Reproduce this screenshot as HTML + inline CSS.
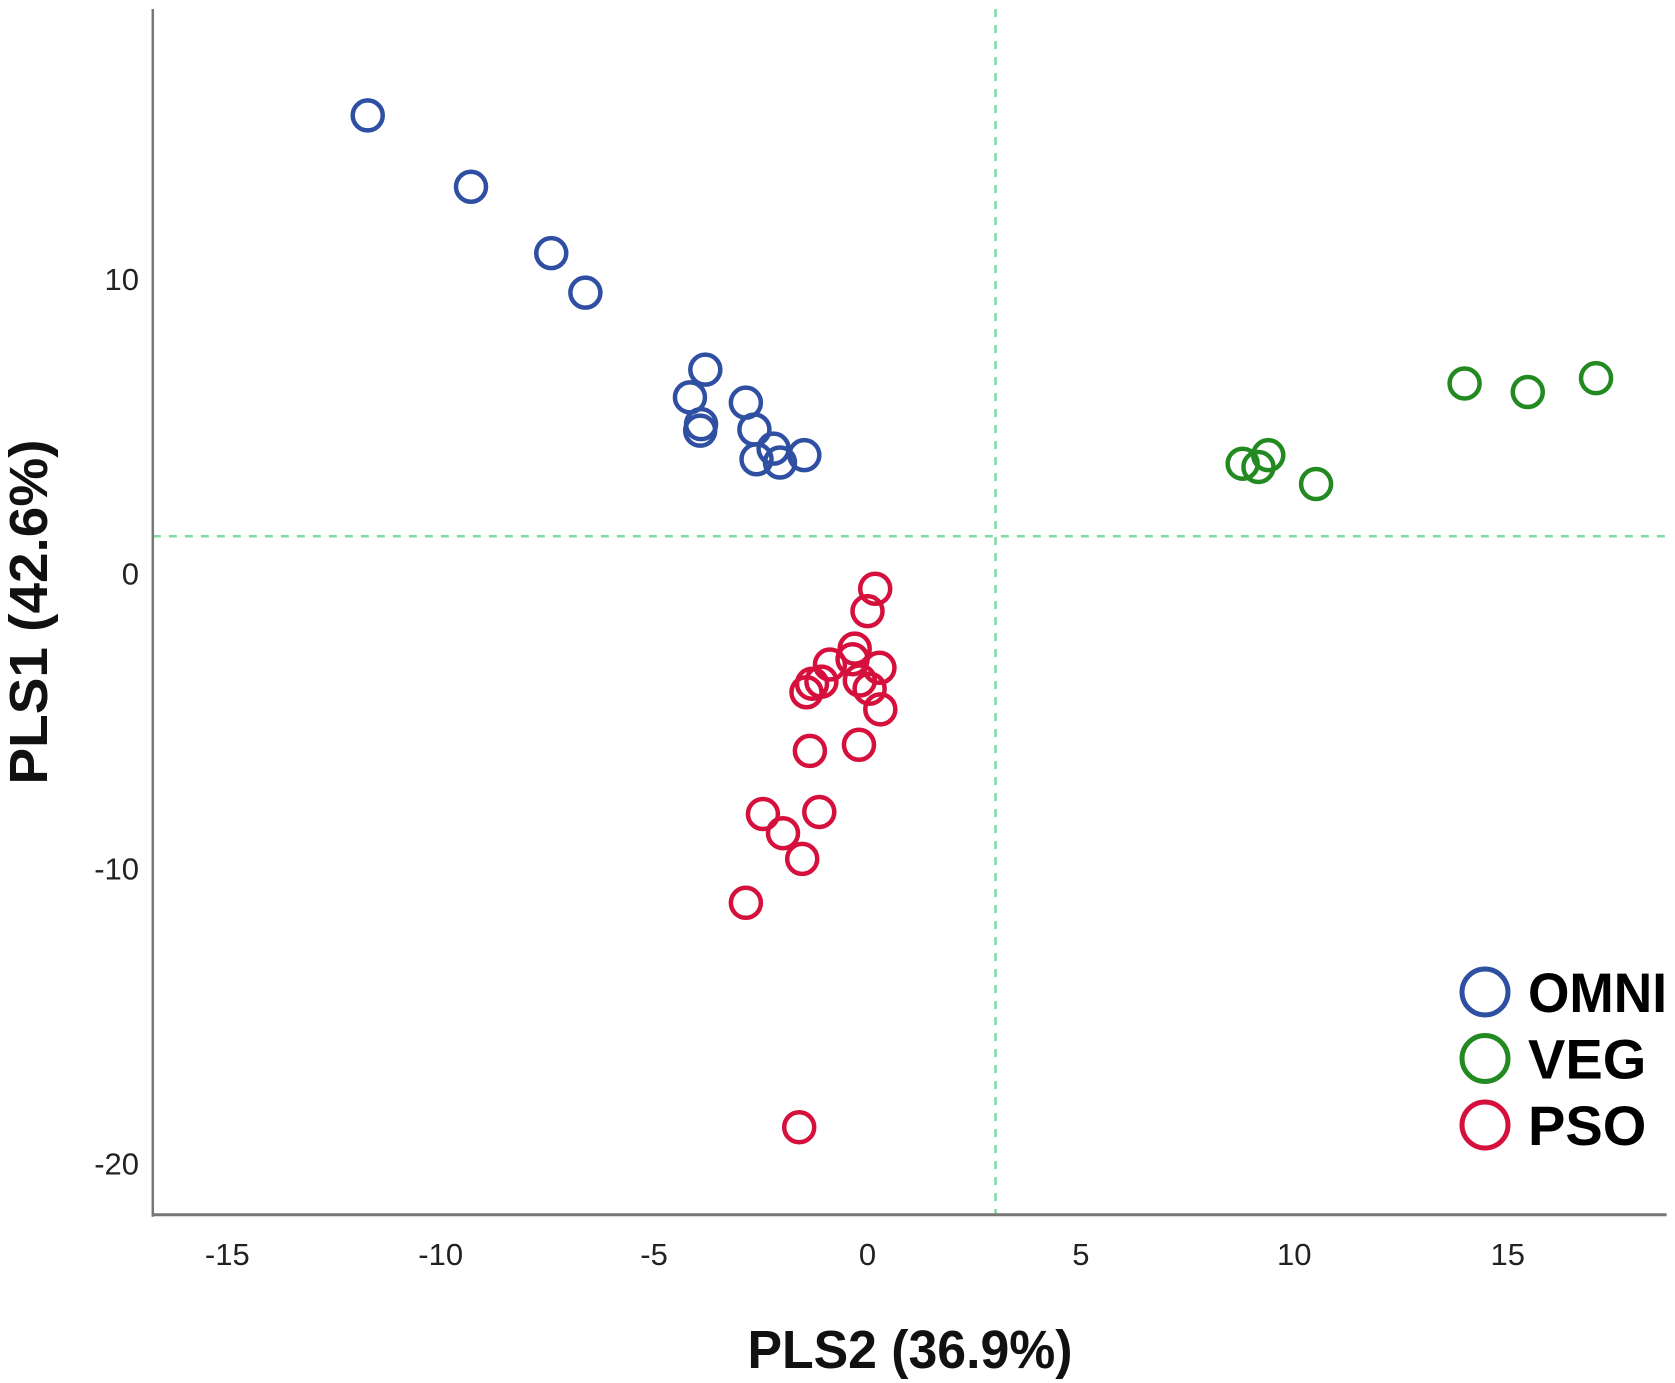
<!DOCTYPE html>
<html><head><meta charset="utf-8"><style>
html,body{margin:0;padding:0;background:#fff;}
svg{display:block;font-family:"Liberation Sans",sans-serif;}
</style></head><body>
<svg id="chart" width="1675" height="1383" viewBox="0 0 1675 1383"></svg>
<script>
const xTicks=[-15,-10,-5,0,5,10,15];
const yTicks=[10,0,-10,-20];
const refX=3;
const refY=1.27;
const omniX=[-11.71,-9.29,-7.41,-6.61,-3.80,-4.16,-3.90,-3.92,-2.85,-2.65,-2.60,-2.05,-2.20,-1.48];
const omniY=[15.54,13.12,10.87,9.53,6.92,5.98,5.07,4.85,5.80,4.89,3.88,3.77,4.24,4.02];
const vegX=[8.79,9.16,9.39,10.51,13.99,15.47,17.07];
const vegY=[3.73,3.62,4.02,3.04,6.45,6.16,6.63];
const psoX=[0.18,0,-0.30,-0.88,-0.35,0.28,-1.30,-1.43,-1.08,-0.18,0.30,-1.35,-0.20,-2.45,-1.98,-1.13,-1.53,-2.85,-1.60,0.05];
const psoY=[-0.51,-1.27,-2.54,-3.08,-2.90,-3.19,-3.73,-4.02,-3.66,-3.62,-4.60,-6.01,-5.80,-8.15,-8.80,-8.08,-9.67,-11.16,-18.77,-3.90];
const legendLabels=["OMNI","VEG","PSO"];
const colors=["#2f4fa3","#238a22","#d5103c"];

const NS="http://www.w3.org/2000/svg";
const svg=document.getElementById('chart');
const L=152.8,R=1666.6,T=9,B=1214.7;
function sx(v){return 867.5+v*42.68;}
function sy(v){return 573.7-v*29.49;}
function mk(tag,attrs,parent){const e=document.createElementNS(NS,tag);for(const k in attrs)e.setAttribute(k,attrs[k]);(parent||svg).appendChild(e);return e;}

// reference lines
let e=mk('line',{x1:sx(refX),x2:sx(refX),y1:T,y2:B,stroke:'#7fdca0','stroke-width':2.5,'stroke-dasharray':'8,8'});


e=mk('line',{x1:L,x2:R,y1:sy(refY),y2:sy(refY),stroke:'#7fdca0','stroke-width':2.5,'stroke-dasharray':'8,8'});



// axes
e=mk('line',{x1:L,x2:L,y1:T,y2:B+2,stroke:'#777','stroke-width':2.5});


e=mk('line',{x1:L,x2:R,y1:B,y2:B,stroke:'#777','stroke-width':3});



xTicks.forEach(v=>{
  const t=mk('text',{x:sx(v),y:1265,'text-anchor':'middle','font-size':31,fill:'#222'});
  t.textContent=String(v);
  
  
});
yTicks.forEach(v=>{
  const t=mk('text',{x:139,y:sy(v)+11,'text-anchor':'end','font-size':31,fill:'#222'});
  t.textContent=String(v);
  
  
});

let t=mk('text',{x:910,y:1368,'text-anchor':'middle','font-size':54,'font-weight':'bold',fill:'#111',textLength:325,lengthAdjust:'spacingAndGlyphs'});
t.textContent='PLS2 (36.9%)';


t=mk('text',{x:0,y:0,'text-anchor':'middle','font-size':54,'font-weight':'bold',fill:'#111',textLength:345,lengthAdjust:'spacingAndGlyphs',transform:'translate(47,612) rotate(-90)'});
t.textContent='PLS1 (42.6%)';



const series=[[omniX,omniY,'omni'],[vegX,vegY,'veg'],[psoX,psoY,'pso']];
series.forEach((s,i)=>{
  const g=mk('g',{});
  
  
  s[0].forEach((xv,j)=>{
    const c=mk('circle',{cx:sx(xv),cy:sy(s[1][j]),r:15,fill:'none',stroke:colors[i],'stroke-width':4.5},g);
    
    
  });
});

legendLabels.forEach((lab,i)=>{
  const g=mk('g',{});
  
  
  const cy=992+i*66.5;
  mk('circle',{cx:1485,cy:cy,r:23,fill:'none',stroke:colors[i],'stroke-width':5},g);
  const tx=mk('text',{x:1528,y:cy+20,'font-size':56,'font-weight':'bold',fill:'#000'},g);
  tx.textContent=lab;
  if(lab==='OMNI'){tx.setAttribute('textLength',139);tx.setAttribute('lengthAdjust','spacingAndGlyphs');}
});
</script>
</body></html>
